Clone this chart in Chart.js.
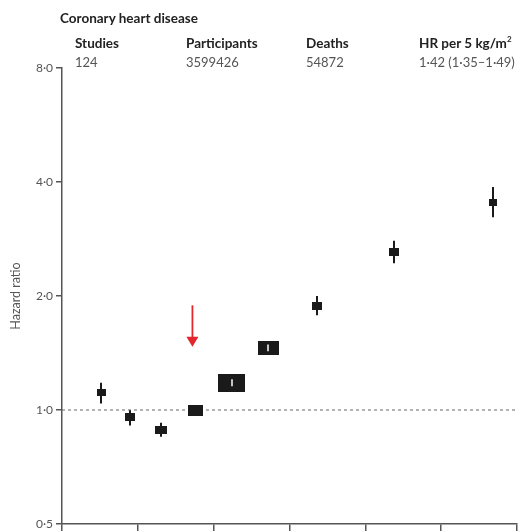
<!DOCTYPE html>
<html>
<head>
<meta charset="utf-8">
<script src="https://cdn.jsdelivr.net/npm/chart.js@4.4.1/dist/chart.umd.min.js"></script>
<style>
  html, body { margin: 0; padding: 0; background: #fff; }
  #wrap { position: relative; width: 523px; height: 531px; font-family: Lato, "Open Sans", sans-serif; }
  #myChart { position: absolute; left: 0; top: 0; }
  .t { position: absolute; white-space: nowrap; line-height: 1; }
  .title { font-weight: bold; font-size: 13.5px; color: #222; }
  .head { font-weight: bold; font-size: 13.5px; color: #222; }
  .val { font-size: 13px; color: #555; }
</style>
</head>
<body>
<div id="wrap">
  <canvas id="myChart" width="523" height="531"></canvas>
  <div class="t title" style="left:60px; top:12px;">Coronary heart disease</div>
  <div class="t head" style="left:75px; top:37px;">Studies</div>
  <div class="t head" style="left:186px; top:37px;">Participants</div>
  <div class="t head" style="left:306px; top:37px;">Deaths</div>
  <div class="t head" style="left:419px; top:37px;">HR per 5 kg/m<sup style="font-size:8px; vertical-align: 6px; line-height:0;">2</sup></div>
  <div class="t val" style="left:75px; top:56px;">124</div>
  <div class="t val" style="left:186px; top:56px;">3599426</div>
  <div class="t val" style="left:306px; top:56px;">54872</div>
  <div class="t val" style="left:419px; top:56px;">1·42 (1·35–1·49)</div>
</div>
<script>
// BMI group midpoints (kg/m2) and hazard ratios with 95% CI
let bmiMid = [17.6, 19.5, 21.5, 23.8, 26.2, 28.6, 31.8, 36.9, 43.4];
let hr     = [1.11, 0.96, 0.885, 1.0, 1.18, 1.46, 1.88, 2.61, 3.54];
let ciLow  = [1.04, 0.91, 0.85, 1.0, 1.155, 1.43, 1.78, 2.44, 3.23];
let ciHigh = [1.18, 1.0, 0.925, 1.0, 1.205, 1.49, 2.0, 2.80, 3.88];

let xTicks = [15, 20, 25, 30, 35, 40, 45];
let yTicks = [0.5, 1, 2, 4, 8];

// red arrow marking the reference group
let arrowX = 23.6;
let arrowFrom = 1.89;
let arrowTo = 1.47;

// box sizes (px), larger box = more precise estimate
let boxW = [9, 10, 12, 15, 27, 21, 10, 10, 8];
let boxH = [7, 8, 8, 11, 18, 14, 8, 8, 7];

function boxImage(w, h) {
    let c = document.createElement('canvas');
    c.width = w;
    c.height = h;
    let g = c.getContext('2d');
    g.fillStyle = '#1a1a1a';
    g.fillRect(0, 0, w, h);
    return c;
}
let boxes = boxW.map((w, i) => boxImage(w, boxH[i]));

let points = bmiMid.map((x, i) => ({x: x, y: hr[i]}));

let ciPlugin = {
    id: 'ciLines',
    beforeDatasetsDraw(chart) {
        let ctx = chart.ctx;
        let xs = chart.scales.x, ys = chart.scales.y;
        ctx.save();
        ctx.strokeStyle = '#1a1a1a';
        ctx.lineWidth = 2;
        bmiMid.forEach((b, i) => {
            let px = Math.round(xs.getPixelForValue(b));
            ctx.beginPath();
            ctx.moveTo(px, ys.getPixelForValue(ciHigh[i]));
            ctx.lineTo(px, ys.getPixelForValue(ciLow[i]));
            ctx.stroke();
        });
        ctx.restore();
    },
    afterDatasetsDraw(chart) {
        let ctx = chart.ctx;
        let xs = chart.scales.x, ys = chart.scales.y;
        ctx.save();
        // CI inside big boxes shows as a white mark
        ctx.strokeStyle = '#ffffff';
        ctx.lineWidth = 1.5;
        bmiMid.forEach((b, i) => {
            let px = Math.round(xs.getPixelForValue(b));
            let top = ys.getPixelForValue(ciHigh[i]);
            let bot = ys.getPixelForValue(ciLow[i]);
            let cy = ys.getPixelForValue(hr[i]);
            if (bot - top < 2) return;
            if (top > cy - boxH[i] / 2 + 1 && bot < cy + boxH[i] / 2 - 1) {
                ctx.beginPath();
                ctx.moveTo(px, top);
                ctx.lineTo(px, bot);
                ctx.stroke();
            }
        });
        // red arrow
        let ax = xs.getPixelForValue(arrowX);
        let ay0 = ys.getPixelForValue(arrowFrom);
        let ay1 = ys.getPixelForValue(arrowTo);
        ctx.strokeStyle = '#e3262b';
        ctx.fillStyle = '#e3262b';
        ctx.lineWidth = 1.8;
        ctx.beginPath();
        ctx.moveTo(ax, ay0);
        ctx.lineTo(ax, ay1 - 8);
        ctx.stroke();
        ctx.beginPath();
        ctx.moveTo(ax - 6, ay1 - 10);
        ctx.lineTo(ax + 6, ay1 - 10);
        ctx.lineTo(ax, ay1);
        ctx.closePath();
        ctx.fill();
        ctx.restore();
    }
};

let ctx = document.getElementById('myChart');
if (ctx !== null) {
    new Chart(ctx, {
        type: 'scatter',
        plugins: [ciPlugin],
        data: {
            datasets: [{
                label: 'HR',
                data: points,
                pointStyle: c => boxes[c.dataIndex],
                pointRadius: 3,
                order: 0
            }, {
                type: 'line',
                label: 'ref',
                data: [{x: xTicks[0], y: 1}, {x: xTicks[xTicks.length - 1], y: 1}],
                borderColor: '#666',
                borderWidth: 1,
                borderDash: [3, 3],
                pointRadius: 0,
                order: 1
            }]
        },
        options: {
            responsive: false,
            animation: false,
            layout: {
                padding: {top: 68, right: 6, bottom: 0, left: 0}
            },
            plugins: {
                legend: {display: false},
                tooltip: {enabled: false}
            },
            scales: {
                x: {
                    type: 'linear',
                    min: xTicks[0],
                    max: xTicks[xTicks.length - 1],
                    afterBuildTicks: s => { s.ticks = xTicks.map(v => ({value: v})); },
                    afterFit: s => { s.height = 7; },
                    ticks: {display: false},
                    grid: {drawOnChartArea: false, drawTicks: true, tickLength: 7, color: '#555', lineWidth: 1.5},
                    border: {color: '#555', width: 1.5}
                },
                y: {
                    type: 'logarithmic',
                    min: 0.5,
                    max: 8,
                    afterBuildTicks: s => { s.ticks = yTicks.map(v => ({value: v})); },
                    afterFit: s => { s.width = 62; s.paddingBottom = 0; },
                    ticks: {
                        color: '#555',
                        padding: 3,
                        font: {family: 'Lato', size: 12},
                        callback: v => v.toFixed(1).replace('.', '·')
                    },
                    grid: {drawOnChartArea: false, drawTicks: true, tickLength: 6, color: '#555', lineWidth: 1.5},
                    border: {color: '#555', width: 1.5},
                    title: {
                        display: true,
                        text: 'Hazard ratio',
                        color: '#555',
                        font: {family: 'Lato', size: 12.5},
                        padding: {top: 8, bottom: 0}
                    }
                }
            }
        }
    });
}
</script>
</body>
</html>
